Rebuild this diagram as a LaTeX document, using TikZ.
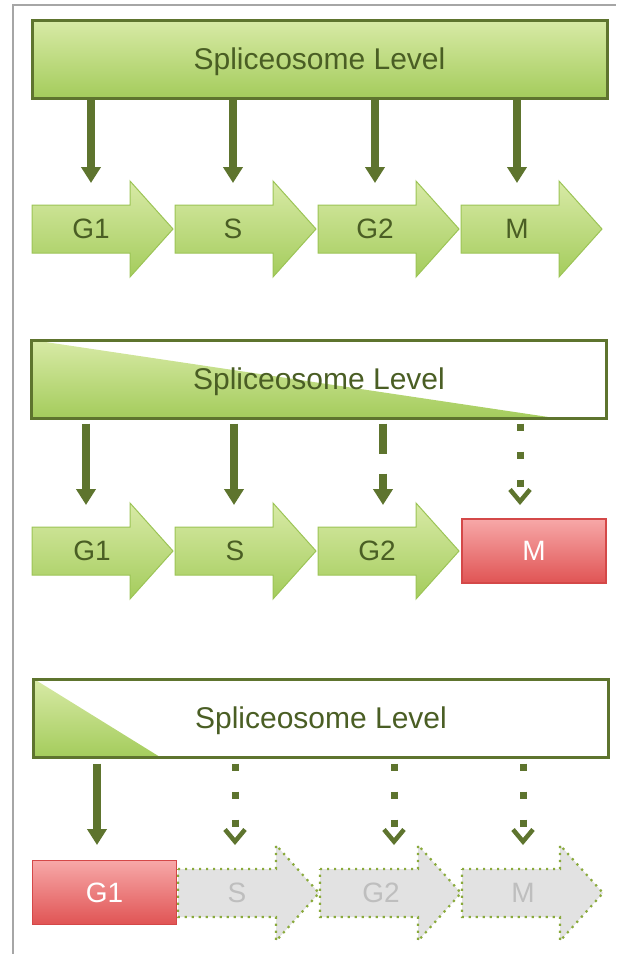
\documentclass[tikz,border=0pt]{standalone}
\usepackage{fontspec}
\setmainfont{Liberation Sans}
\usetikzlibrary{arrows.meta}

\definecolor{leafdark}{RGB}{94,116,46}
\definecolor{leaftext}{RGB}{74,94,36}
\definecolor{leaftop}{RGB}{216,234,166}
\definecolor{leafbot}{RGB}{164,204,92}
\definecolor{leafedge}{RGB}{156,196,86}
\definecolor{stoptop}{RGB}{247,168,168}
\definecolor{stopbot}{RGB}{224,84,84}
\definecolor{stopedge}{RGB}{212,72,72}
\definecolor{ghostfill}{RGB}{226,226,226}
\definecolor{ghosttext}{RGB}{190,190,190}
\definecolor{ghostedge}{RGB}{138,170,60}

\tikzset{
  levelbox/.style={draw=leafdark, line width=3pt, minimum width=575pt, minimum height=78pt,
    text=leaftext, text depth=0pt, font=\fontsize{30}{30}\selectfont},
  phase/.style={top color=leaftop, bottom color=leafbot, draw=leafedge, line width=1pt},
  ghost/.style={fill=ghostfill, draw=ghostedge, line width=2.2pt, dash pattern=on 2.2pt off 4.8pt},
  phaselabel/.style={text=leaftext, text depth=0pt, font=\fontsize{28}{28}\selectfont},
  ghostlabel/.style={text=ghosttext, text depth=0pt, font=\fontsize{28}{28}\selectfont},
  stopbox/.style={top color=stoptop, bottom color=stopbot, draw=stopedge, line width=1.5pt,
    minimum width=144pt, minimum height=64pt, text=white, text depth=0pt, font=\fontsize{28}{28}\selectfont},
  link/.style={leafdark, line width=8pt, -{Triangle[width=19pt,length=16pt]}},
  weak/.style={leafdark, line width=8pt, dash pattern=on 30pt off 20pt, -{Triangle[width=19pt,length=16pt]}},
  faint/.style={leafdark, line width=7pt, dash pattern=on 7pt off 21pt,
    -{Straight Barb[width=20pt,length=12pt,line width=4.5pt]}}
}

\begin{document}
\begin{tikzpicture}[x=1pt, y=-1pt]
    \useasboundingbox (0,0) rectangle (623,954);
    \draw[black!35, line width=1.2pt] (13,954) -- (13,5) -- (616,5);

    % full level
    \node[levelbox, top color=leaftop, bottom color=leafbot] (lvla) at (319.5,59) {Spliceosome Level};

    \draw[phase] (32,205) -- ++(98,0) -- ++(0,-24) -- ++(43,48) -- ++(-43,48) -- ++(0,-24) -- ++(-98,0) -- cycle;
    \draw[phase] (175,205) -- ++(98,0) -- ++(0,-24) -- ++(43,48) -- ++(-43,48) -- ++(0,-24) -- ++(-98,0) -- cycle;
    \draw[phase] (318,205) -- ++(98,0) -- ++(0,-24) -- ++(43,48) -- ++(-43,48) -- ++(0,-24) -- ++(-98,0) -- cycle;
    \draw[phase] (461,205) -- ++(98,0) -- ++(0,-24) -- ++(43,48) -- ++(-43,48) -- ++(0,-24) -- ++(-98,0) -- cycle;

    \node[phaselabel] (g1a) at (91,229) {G1};
    \node[phaselabel] (sa) at (233,229) {S};
    \node[phaselabel] (g2a) at (375,229) {G2};
    \node[phaselabel] (ma) at (517,229) {M};

    \coordinate (g1ain) at (91,183);
    \coordinate (sain) at (233,183);
    \coordinate (g2ain) at (375,183);
    \coordinate (main) at (517,183);

    \draw[link] (lvla.south -| g1ain) -- (g1ain);
    \draw[link] (lvla.south -| sain) -- (sain);
    \draw[link] (lvla.south -| g2ain) -- (g2ain);
    \draw[link] (lvla.south -| main) -- (main);

    % falling level
    \shade[top color=leaftop, bottom color=leafbot] (32,340) -- (555,418) -- (32,418) -- cycle;
    \node[levelbox] (lvlb) at (319,379) {Spliceosome Level};

    \draw[phase] (32,527) -- ++(98,0) -- ++(0,-24) -- ++(43,48) -- ++(-43,48) -- ++(0,-24) -- ++(-98,0) -- cycle;
    \draw[phase] (175,527) -- ++(98,0) -- ++(0,-24) -- ++(43,48) -- ++(-43,48) -- ++(0,-24) -- ++(-98,0) -- cycle;
    \draw[phase] (318,527) -- ++(98,0) -- ++(0,-24) -- ++(43,48) -- ++(-43,48) -- ++(0,-24) -- ++(-98,0) -- cycle;

    \node[phaselabel] (g1b) at (92,551) {G1};
    \node[phaselabel] (sb) at (235,551) {S};
    \node[phaselabel] (g2b) at (377,551) {G2};
    \node[stopbox] (mb) at (534,551) {M};

    \coordinate (g1bin) at (86,505);
    \coordinate (sbin) at (234,505);
    \coordinate (g2bin) at (383,505);
    \coordinate (mbin) at (520,505);

    \draw[link, shorten <=4pt] (lvlb.south -| g1bin) -- (g1bin);
    \draw[link, shorten <=4pt] (lvlb.south -| sbin) -- (sbin);
    \draw[weak, shorten <=4pt] (lvlb.south -| g2bin) -- (g2bin);
    \draw[faint, shorten <=4pt] (lvlb.south -| mbin) -- (mbin);

    % low level
    \shade[top color=leaftop, bottom color=leafbot] (34,679) -- (160,757) -- (34,757) -- cycle;
    \node[levelbox] (lvlc) at (321,718) {Spliceosome Level};

    \draw[ghost] (178,869) -- ++(98,0) -- ++(0,-24) -- ++(43,48) -- ++(-43,48) -- ++(0,-24) -- ++(-98,0) -- cycle;
    \draw[ghost] (320,869) -- ++(98,0) -- ++(0,-24) -- ++(43,48) -- ++(-43,48) -- ++(0,-24) -- ++(-98,0) -- cycle;
    \draw[ghost] (462,869) -- ++(98,0) -- ++(0,-24) -- ++(43,48) -- ++(-43,48) -- ++(0,-24) -- ++(-98,0) -- cycle;

    \node[stopbox] (g1c) at (104.5,892.5) {G1};
    \node[ghostlabel] (sc) at (237,893) {S};
    \node[ghostlabel] (g2c) at (381,893) {G2};
    \node[ghostlabel] (mc) at (523,893) {M};

    \coordinate (g1cin) at (97,845);
    \coordinate (scin) at (235,845);
    \coordinate (g2cin) at (394,845);
    \coordinate (mcin) at (523,845);

    \draw[link, shorten <=5pt] (lvlc.south -| g1cin) -- (g1cin);
    \draw[faint, shorten <=5pt] (lvlc.south -| scin) -- (scin);
    \draw[faint, shorten <=5pt] (lvlc.south -| g2cin) -- (g2cin);
    \draw[faint, shorten <=5pt] (lvlc.south -| mcin) -- (mcin);
\end{tikzpicture}
\end{document}
